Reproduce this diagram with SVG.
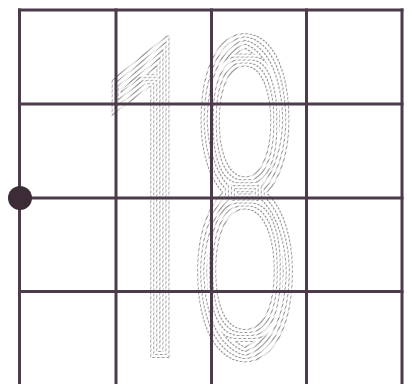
<svg xmlns="http://www.w3.org/2000/svg" width="408" height="384" viewBox="0 0 408 384">
<style>
  .grid line { stroke: #4d3b4c; stroke-width: 3; stroke-linecap: square; }
  #num, .glyph { font-family: Roboto, "Noto Sans", sans-serif; font-size: 451px; }
</style>
<defs>
  <text id="num" transform="scale(0.47,1)" x="200" y="358">1<tspan dx="-59">8</tspan></text>
  <filter id="rings" filterUnits="userSpaceOnUse" x="80" y="20" width="250" height="360" color-interpolation-filters="sRGB">
    <feMorphology in="SourceAlpha" operator="erode" radius="1" result="e1"/>
    <feComposite in="SourceAlpha" in2="e1" operator="out" result="r0"/>
    <feMorphology in="SourceAlpha" operator="erode" radius="3" result="e3"/>
    <feMorphology in="SourceAlpha" operator="erode" radius="4" result="e4"/>
    <feComposite in="e3" in2="e4" operator="out" result="r1"/>
    <feMorphology in="SourceAlpha" operator="erode" radius="6" result="e6"/>
    <feMorphology in="SourceAlpha" operator="erode" radius="7" result="e7"/>
    <feComposite in="e6" in2="e7" operator="out" result="r2"/>
    <feMorphology in="SourceAlpha" operator="erode" radius="9" result="e9"/>
    <feMorphology in="SourceAlpha" operator="erode" radius="10" result="e10"/>
    <feComposite in="e9" in2="e10" operator="out" result="r3"/>
    <feMorphology in="SourceAlpha" operator="erode" radius="12" result="e12"/>
    <feMorphology in="SourceAlpha" operator="erode" radius="13" result="e13"/>
    <feComposite in="e12" in2="e13" operator="out" result="r4"/>
    <feMorphology in="SourceAlpha" operator="erode" radius="15" result="e15"/>
    <feMorphology in="SourceAlpha" operator="erode" radius="16" result="e16"/>
    <feComposite in="e15" in2="e16" operator="out" result="r5"/>
    <feMerge result="all">
      <feMergeNode in="r0"/><feMergeNode in="r1"/><feMergeNode in="r2"/>
      <feMergeNode in="r3"/><feMergeNode in="r4"/><feMergeNode in="r5"/>
    </feMerge>
    <feFlood flood-color="#9a9a9a" result="grey"/>
    <feComposite in="grey" in2="all" operator="in"/>
  </filter>
  <pattern id="stripes" width="3.4" height="3.4" patternUnits="userSpaceOnUse" patternTransform="rotate(45)">
    <rect width="2" height="3.4" fill="#ffffff"/>
  </pattern>
  <mask id="dash" maskUnits="userSpaceOnUse" x="0" y="0" width="408" height="384">
    <rect width="408" height="384" fill="url(#stripes)"/>
  </mask>
</defs>
<rect width="408" height="384" fill="#ffffff"/>
<g id="numeral" mask="url(#dash)">
  <g filter="url(#rings)">
    <use href="#num" class="glyph" fill="#000000"/>
  </g>
</g>
<g id="grid" class="grid">
  <line x1="19.5" y1="10" x2="19.5" y2="390"/>
  <line x1="116" y1="10" x2="116" y2="390"/>
  <line x1="211.5" y1="10" x2="211.5" y2="390"/>
  <line x1="306.5" y1="10" x2="306.5" y2="390"/>
  <line x1="402" y1="10" x2="402" y2="390"/>
  <line x1="19.5" y1="10" x2="402" y2="10"/>
  <line x1="19.5" y1="104" x2="402" y2="104"/>
  <line x1="19.5" y1="198" x2="402" y2="198"/>
  <line x1="19.5" y1="291.5" x2="402" y2="291.5"/>
</g>
<g id="dot">
  <circle cx="20" cy="198" r="12" fill="#3b2c36"/>
</g>
</svg>
